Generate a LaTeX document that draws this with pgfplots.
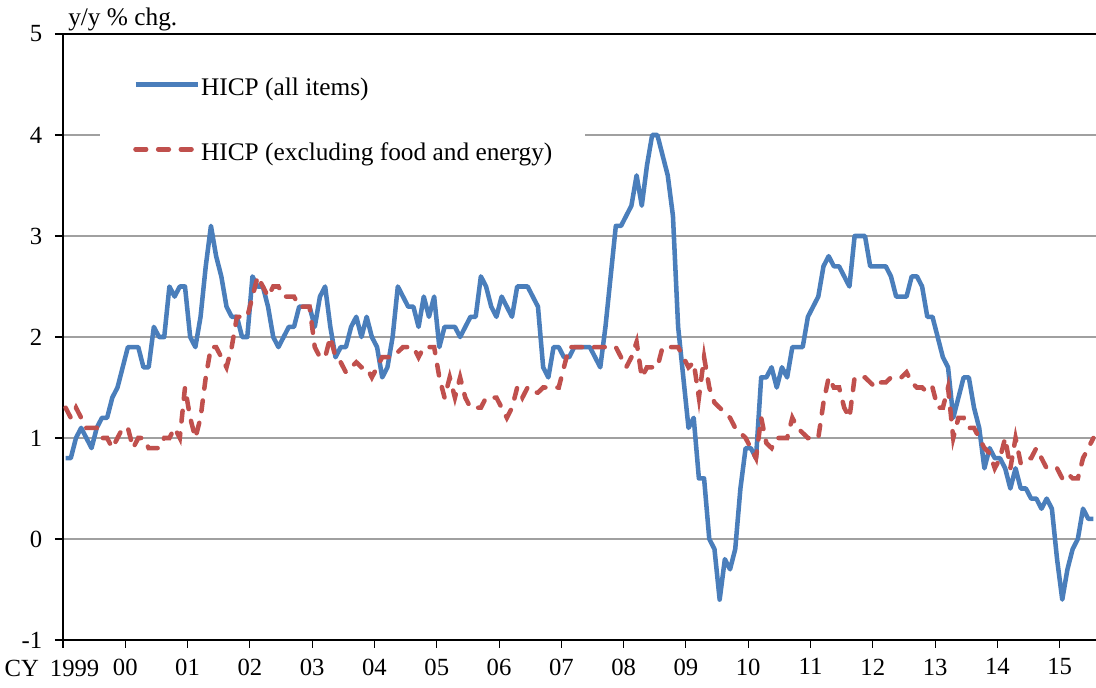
\documentclass[border=0pt]{standalone}
\usepackage{fontspec}
\setmainfont{Liberation Serif}
\usepackage{pgfplots}
\usepackage{pgfplotstable}
\pgfplotsset{compat=1.18}

\definecolor{hicpblue}{RGB}{74,126,187}
\definecolor{corered}{RGB}{192,80,77}
\definecolor{gridgray}{RGB}{160,160,160}

% monthly, Jan 1999 = 0
\pgfplotstableread{
m all core
0 0.8 1.3
1 0.8 1.2
2 1.0 1.3
3 1.1 1.2
4 1.0 1.1
5 0.9 1.1
6 1.1 1.1
7 1.2 1.0
8 1.2 1.0
9 1.4 0.9
10 1.5 1.0
11 1.7 1.1
12 1.9 1.1
13 1.9 0.9
14 1.9 1.0
15 1.7 1.0
16 1.7 0.9
17 2.1 0.9
18 2.0 0.9
19 2.0 1.0
20 2.5 1.0
21 2.4 1.1
22 2.5 1.0
23 2.5 1.5
24 2.0 1.2
25 1.9 1.0
26 2.2 1.2
27 2.7 1.6
28 3.1 1.9
29 2.8 1.9
30 2.6 1.8
31 2.3 1.7
32 2.2 1.9
33 2.2 2.2
34 2.0 2.2
35 2.0 2.2
36 2.6 2.4
37 2.5 2.6
38 2.5 2.5
39 2.3 2.4
40 2.0 2.5
41 1.9 2.5
42 2.0 2.4
43 2.1 2.4
44 2.1 2.4
45 2.3 2.3
46 2.3 2.3
47 2.3 2.3
48 2.1 1.9
49 2.4 1.8
50 2.5 1.8
51 2.1 2.0
52 1.8 1.8
53 1.9 1.75
54 1.9 1.65
55 2.1 1.7
56 2.2 1.75
57 2.0 1.7
58 2.2 1.7
59 2.0 1.6
60 1.9 1.7
61 1.6 1.8
62 1.7 1.8
63 2.0 1.8
64 2.5 1.85
65 2.4 1.9
66 2.3 1.9
67 2.3 1.9
68 2.1 1.8
69 2.4 1.9
70 2.2 1.9
71 2.4 1.9
72 1.9 1.6
73 2.1 1.4
74 2.1 1.6
75 2.1 1.4
76 2.0 1.6
77 2.1 1.4
78 2.2 1.3
79 2.2 1.3
80 2.6 1.3
81 2.5 1.4
82 2.3 1.4
83 2.2 1.4
84 2.4 1.3
85 2.3 1.2
86 2.2 1.3
87 2.5 1.5
88 2.5 1.4
89 2.5 1.5
90 2.4 1.45
91 2.3 1.45
92 1.7 1.5
93 1.6 1.5
94 1.9 1.5
95 1.9 1.5
96 1.8 1.7
97 1.8 1.9
98 1.9 1.9
99 1.9 1.9
100 1.9 1.9
101 1.9 1.9
102 1.8 1.9
103 1.7 1.9
104 2.1 1.9
105 2.6 1.9
106 3.1 1.9
107 3.1 1.8
108 3.2 1.7
109 3.3 1.8
110 3.6 1.95
111 3.3 1.6
112 3.7 1.7
113 4.0 1.7
114 4.0 1.7
115 3.8 1.9
116 3.6 1.9
117 3.2 1.9
118 2.1 1.9
119 1.6 1.8
120 1.1 1.7
121 1.2 1.75
122 0.6 1.4
123 0.6 1.8
124 0.0 1.5
125 -0.1 1.35
126 -0.6 1.3
127 -0.2 1.25
128 -0.3 1.2
129 -0.1 1.1
130 0.5 1.05
131 0.9 1.0
132 0.9 0.9
133 0.8 0.8
134 1.6 1.2
135 1.6 0.95
136 1.7 0.9
137 1.5 1.0
138 1.7 1.0
139 1.6 1.0
140 1.9 1.2
141 1.9 1.1
142 1.9 1.05
143 2.2 1.0
144 2.3 1.0
145 2.4 1.0
146 2.7 1.35
147 2.8 1.6
148 2.7 1.5
149 2.7 1.5
150 2.6 1.3
151 2.5 1.2
152 3.0 1.6
153 3.0 1.6
154 3.0 1.6
155 2.7 1.55
156 2.7 1.5
157 2.7 1.55
158 2.7 1.55
159 2.6 1.6
160 2.4 1.6
161 2.4 1.6
162 2.4 1.65
163 2.6 1.55
164 2.6 1.5
165 2.5 1.5
166 2.2 1.45
167 2.2 1.5
168 2.0 1.3
169 1.8 1.3
170 1.7 1.5
171 1.2 1.0
172 1.4 1.2
173 1.6 1.2
174 1.6 1.1
175 1.3 1.1
176 1.1 1.0
177 0.7 0.9
178 0.9 0.85
179 0.8 0.7
180 0.8 0.8
181 0.7 1.0
182 0.5 0.7
183 0.7 1.0
184 0.5 0.75
185 0.5 0.8
186 0.4 0.8
187 0.4 0.9
188 0.3 0.8
189 0.4 0.7
190 0.3 0.7
191 -0.2 0.7
192 -0.6 0.6
193 -0.3 0.65
194 -0.1 0.6
195 0.0 0.6
196 0.3 0.8
197 0.2 0.9
198 0.2 1.0
}\hicp

\begin{document}
\begin{tikzpicture}
\useasboundingbox (-47.25pt,-36pt) rectangle (774.75pt,480pt);

\begin{axis}[
    name=ax,
    scale only axis,
    width=774.75pt,
    height=454.5pt,
    xmin=0, xmax=199,
    ymin=-1, ymax=5,
    axis x line*=bottom,
    axis y line*=left,
    axis line style={black, line width=1.2pt, -},
    xtick={0,12,...,192},
    xticklabels={{},00,01,02,03,04,05,06,07,08,09,10,11,12,13,14,15},
    ytick={-1,0,1,2,3,4},
    yticklabels={-1,0,1,2,3,4},
    extra y ticks={5},
    extra y tick labels={5},
    extra y tick style={grid=major, major grid style={black, line width=1.2pt}},
    ymajorgrids=true,
    major grid style={gridgray, line width=1pt},
    tick align=outside,
    major tick length=6pt,
    tick style={black, line width=0.8pt},
    tick label style={font=\fontsize{18.5}{22}\selectfont},
    yticklabel shift=6pt,
    xticklabel shift=4.5pt,
    legend style={
        at={(0.0358,0.9488)}, anchor=north west,
        draw=none, fill=white,
        inner xsep=24.75pt, inner ysep=10pt,
        row sep=31.25pt, column sep=1pt,
        font=\fontsize{19}{23}\selectfont,
        nodes={inner sep=0pt, text height=13pt, text depth=4.5pt},
    },
    legend cell align=left,
    legend image code/.code={\draw[#1] (0pt,4.5pt) -- (46.5pt,4.5pt);},
]

\addplot[hicpblue, line width=3.4pt, line join=round]
    table[x expr=\thisrow{m}+0.5, y=all] {\hicp};
\addlegendentry{HICP (all items)}

\addplot[corered, line width=3.4pt, line cap=round, dash pattern=on 8pt off 9pt]
    table[x expr=\thisrow{m}+0.5, y=core] {\hicp};
\addlegendentry{HICP (excluding food and energy)}

\end{axis}

\node[anchor=base east, inner sep=0pt, font=\fontsize{19}{23}\selectfont]
    at ([xshift=3.75pt, yshift=6.4pt] ax.north west) {};
\node[anchor=base west, inner sep=0pt, font=\fontsize{19}{23}\selectfont]
    at ([xshift=3.75pt, yshift=6.4pt] ax.north west) {y/y \% chg.};
\node[anchor=base west, inner sep=0pt, font=\fontsize{18.5}{22}\selectfont]
    at ([xshift=-44pt, yshift=-27.75pt] ax.south west) {CY\hspace{0.45em}1999};
\end{tikzpicture}
\end{document}
